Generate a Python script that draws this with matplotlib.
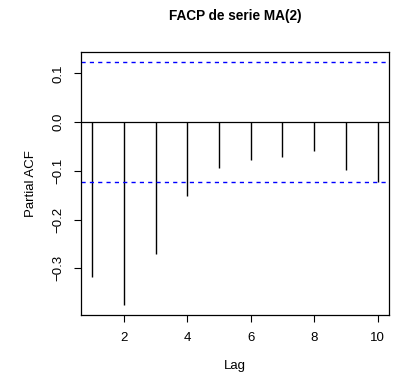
import numpy as np
import matplotlib.pyplot as plt

plt.rcParams['font.family'] = ['Liberation Sans', 'DejaVu Sans']

# partial autocorrelations
lags = [1, 2, 3, 4, 5, 6, 7, 8, 9, 10]
pacf = [-0.318, -0.376, -0.270, -0.151, -0.094, -0.077, -0.072, -0.059, -0.098, -0.123]
conf = 0.1235  # 1.96/sqrt(n)

fig = plt.figure(figsize=(3.98, 3.83), dpi=100)
ax = fig.add_axes([0.2028, 0.1775, 0.7746, 0.6859])

ax.vlines(lags, 0, pacf, color='black', linewidth=1)
ax.axhline(0, color='black', linewidth=0.9)
ax.axhline(conf, color='blue', linewidth=1, linestyle=(0, (3, 3)))
ax.axhline(-conf, color='blue', linewidth=1, linestyle=(0, (3, 3)))

# R style 4% padding
lo = min(min(pacf), -conf)
hi = max(max(pacf), conf)
ax.set_xlim(1 - 0.04 * 9, 10 + 0.04 * 9)
ax.set_ylim(lo - 0.04 * (hi - lo), hi + 0.04 * (hi - lo))

ax.set_xticks([2, 4, 6, 8, 10])
ax.set_yticks([-0.3, -0.2, -0.1, 0.0, 0.1])
ax.set_yticklabels(['\u22120.3', '\u22120.2', '\u22120.1', '0.0', '0.1'],
                   rotation=90, va='center')
ax.tick_params(direction='out', length=5, width=0.8, labelsize=9.5, pad=7)

for s in ax.spines.values():
    s.set_linewidth(0.9)

ax.set_xlabel('Lag', fontsize=9.5, labelpad=12)
ax.set_ylabel('Partial ACF', fontsize=9.5, labelpad=11)
ax.set_title('FACP de serie MA(2)', fontsize=9.8, fontweight='bold', pad=23)

fig.savefig('out.png', dpi=100)
